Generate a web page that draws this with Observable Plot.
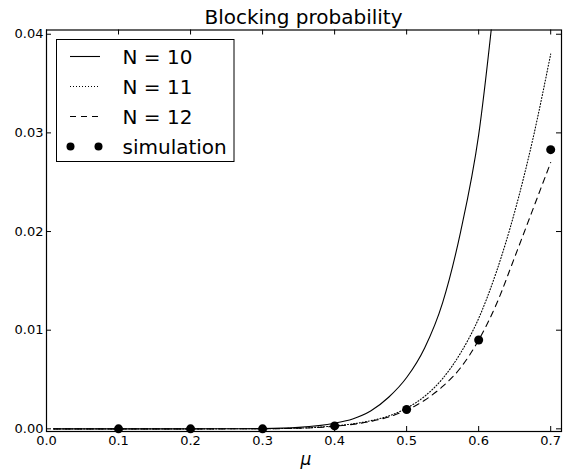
<!DOCTYPE html>
<html>
<head>
<meta charset="utf-8">
<script src="https://cdn.jsdelivr.net/npm/d3@7"></script>
<script src="https://cdn.jsdelivr.net/npm/@observablehq/plot@0.6"></script>
<style>
  html, body { margin: 0; padding: 0; background: #fff; }
  #wrap { position: relative; width: 568px; height: 470px; font-family: "DejaVu Sans", sans-serif; }
  #title { position: absolute; left: 46px; width: 515px; top: 7px; text-align: center;
           font-size: 20px; line-height: 20px; color: #000; white-space: nowrap; }
  #chart { position: absolute; left: 0; top: 0; }
</style>
</head>
<body>
<div id="wrap">
  <div id="chart"></div>
  <div id="title">Blocking probability</div>
</div>
<script>
// ---- data ----
const mu = [0.01, 0.05, 0.1, 0.15, 0.2, 0.25, 0.3, 0.35, 0.4, 0.425, 0.45, 0.475, 0.5, 0.525, 0.55, 0.575, 0.6, 0.625, 0.65, 0.675, 0.7];
const pN10 = [0, 0, 0, 0, 0, 0.000005, 0.00003, 0.00015, 0.00057, 0.0010, 0.0018, 0.0032, 0.0052, 0.0082, 0.0128, 0.0200, 0.0298, 0.0456];
const pN11 = [0, 0, 0, 0, 0, 0.000002, 0.000015, 0.00007, 0.00030, 0.00050, 0.00082, 0.0013, 0.0021, 0.0033, 0.0051, 0.0077, 0.0112, 0.0160, 0.0220, 0.0293, 0.0380];
const pN12 = [0, 0, 0, 0, 0, 0.000001, 0.00001, 0.00006, 0.00026, 0.00045, 0.00075, 0.0012, 0.0019, 0.0029, 0.0043, 0.0062, 0.0090, 0.0127, 0.0174, 0.0222, 0.0270];
const simMu = [0.1, 0.2, 0.3, 0.4, 0.5, 0.6, 0.7];
const simP = [0, 0, 0, 0.0003, 0.00196, 0.0090, 0.0283];
const seriesNames = ["N = 10", "N = 11", "N = 12"];
const simName = "simulation";
const xTicks = [0, 0.1, 0.2, 0.3, 0.4, 0.5, 0.6, 0.7];
const yTicks = [0, 0.01, 0.02, 0.03, 0.04];
const xLabel = "μ";

// ---- build tables ----
const toRows = (vals) => vals.map((p, i) => ({mu: mu[i], p}));
const l10 = toRows(pN10), l11 = toRows(pN11), l12 = toRows(pN12);
const sim = simMu.map((m, i) => ({mu: m, p: simP[i]}));

const W = 568, H = 470, mL = 46, mR = 7, mT = 29.5, mB = 39;
const fw = W - mL - mR, fh = H - mT - mB, tk = 5;
const dashes = [null, "1,2", "6,5"];

const plot = Plot.plot({
  width: W, height: H,
  marginLeft: mL, marginRight: mR, marginTop: mT, marginBottom: mB,
  style: {fontFamily: '"DejaVu Sans", sans-serif', fontSize: "13px", background: "white", color: "black", overflow: "visible"},
  x: {domain: [0, 0.715], label: null},
  y: {domain: [-0.00027, 0.04043], label: null},
  marks: [
    Plot.line(l10, {x: "mu", y: "p", stroke: "black", strokeWidth: 1.1, curve: "monotone-x", clip: true}),
    Plot.line(l11, {x: "mu", y: "p", stroke: "black", strokeWidth: 1.1, strokeDasharray: dashes[1], curve: "monotone-x", clip: true}),
    Plot.line(l12, {x: "mu", y: "p", stroke: "black", strokeWidth: 1.1, strokeDasharray: dashes[2], curve: "monotone-x", clip: true}),
    Plot.dot(sim, {x: "mu", y: "p", r: 4.5, fill: "black"}),
    Plot.frame({stroke: "black", strokeWidth: 1.2}),
    Plot.ruleX(xTicks, {x: d => d, insetTop: fh - tk, stroke: "black"}),
    Plot.ruleX(xTicks, {x: d => d, insetBottom: fh - tk, stroke: "black"}),
    Plot.ruleY(yTicks, {y: d => d, insetRight: fw - tk, stroke: "black"}),
    Plot.ruleY(yTicks, {y: d => d, insetLeft: fw - tk, stroke: "black"}),
    Plot.axisX(xTicks, {tickSize: 0, tickPadding: 4, tickFormat: d3.format(".1f"), label: null}),
    Plot.axisY(yTicks, {tickSize: 0, tickPadding: 3, tickFormat: d3.format(".2f"), label: null}),
    Plot.text([xLabel], {frameAnchor: "bottom", dy: 33, dx: 2, fontSize: 17, fontStyle: "italic", fill: "black"})
  ]
});
document.getElementById("chart").appendChild(plot);

// ---- legend ----
const svg = d3.select(plot);
const lg = svg.append("g").attr("font-family", '"DejaVu Sans", sans-serif')
  .attr("font-size", 20).attr("text-anchor", "start");
lg.append("rect").attr("x", 56.5).attr("y", 39.5).attr("width", 177.5).attr("height", 122)
  .attr("fill", "white").attr("stroke", "black").attr("stroke-width", 1);
seriesNames.forEach((name, i) => {
  const yy = 56.5 + 30 * i;
  lg.append("line").attr("x1", 70).attr("x2", 100).attr("y1", yy).attr("y2", yy)
    .attr("stroke", "black").attr("stroke-width", 1.1)
    .attr("stroke-dasharray", dashes[i]);
  lg.append("text").attr("x", 122.5).attr("y", yy + 7.5).attr("text-anchor", "start").text(name);
});
[70.5, 98.5].forEach(cx => lg.append("circle").attr("cx", cx).attr("cy", 146.5).attr("r", 4).attr("fill", "black"));
lg.append("text").attr("x", 122.5).attr("y", 154).attr("text-anchor", "start").text(simName);
</script>
</body>
</html>
